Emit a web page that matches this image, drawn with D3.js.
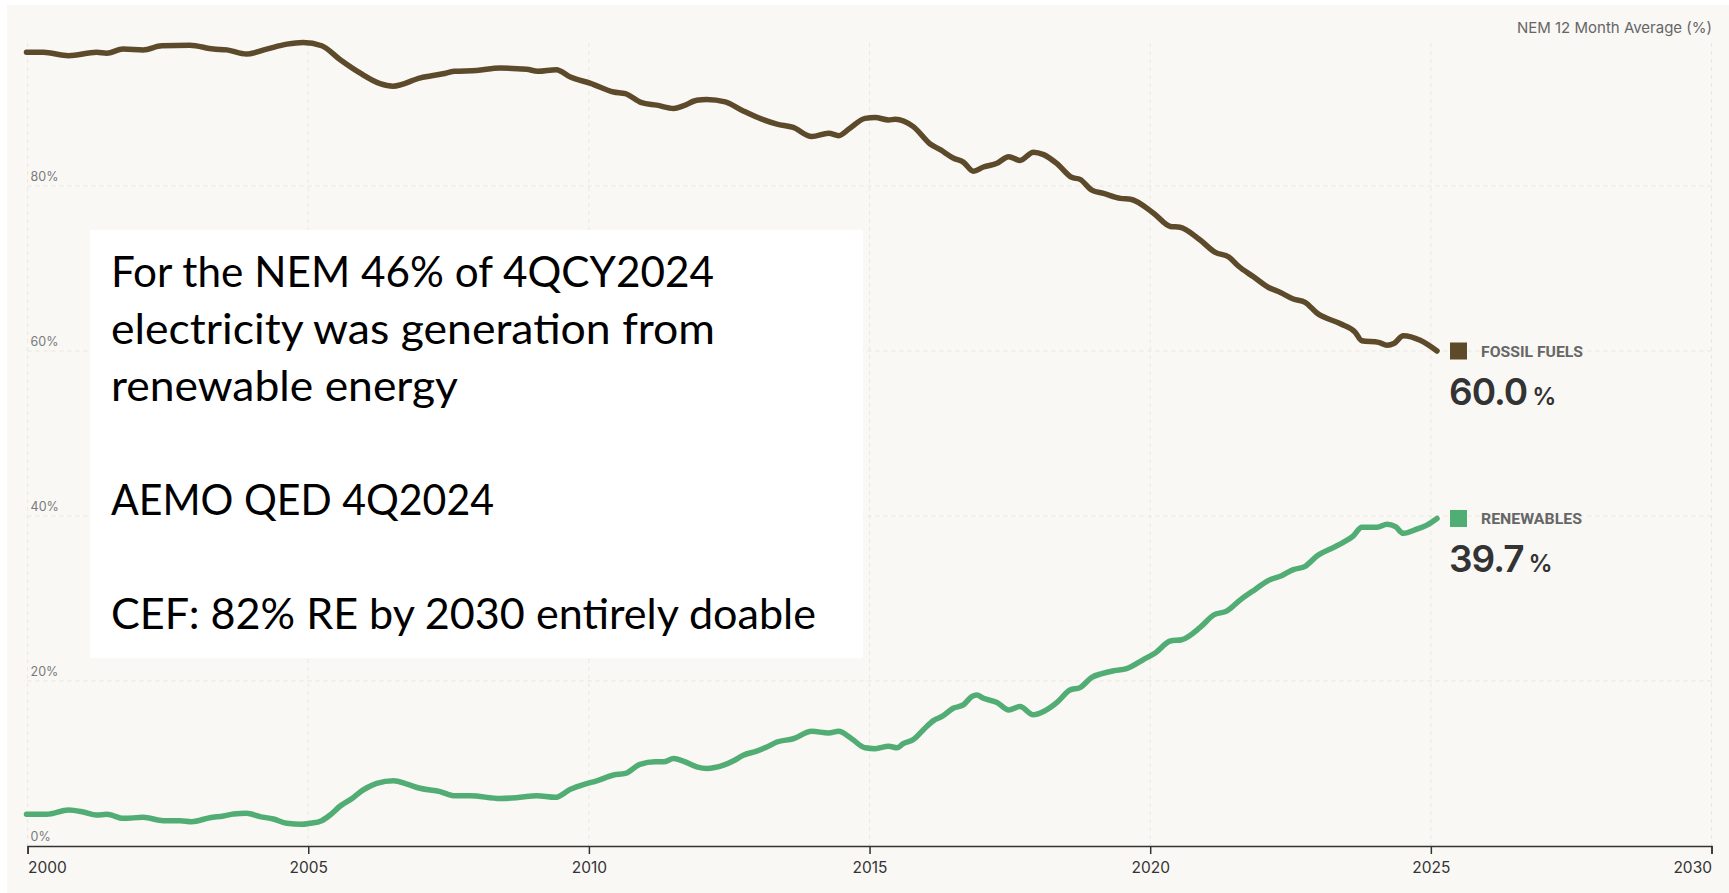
<!DOCTYPE html>
<html>
<head>
<meta charset="utf-8">
<script src="https://cdn.jsdelivr.net/npm/d3@7"></script>
<style>
  html, body { margin: 0; padding: 0; background: #ffffff; }
  svg { display: block; }
</style>
</head>
<body>
<svg id="chart" width="1729" height="893"></svg>
<script>
// NEM generation share, 12-month rolling average (%)
const fossilYears = [1999.98, 2000.28, 2000.73, 2001.23, 2001.41, 2001.70, 2002.06, 2002.39, 2002.89, 2003.31,
  2003.55, 2003.90, 2004.26, 2004.62, 2004.91, 2005.24, 2005.57, 2005.92, 2006.28, 2006.51,
  2007.00, 2007.40, 2007.60, 2008.00, 2008.42, 2008.89, 2009.09, 2009.42, 2009.67, 2010.03,
  2010.44, 2010.65, 2010.94, 2011.21, 2011.51, 2011.68, 2011.92, 2012.10, 2012.43, 2012.75,
  2013.08, 2013.35, 2013.64, 2013.97, 2014.27, 2014.45, 2014.65, 2014.92, 2015.10, 2015.34,
  2015.46, 2015.78, 2016.08, 2016.26, 2016.49, 2016.67, 2016.85, 2017.03, 2017.27, 2017.48,
  2017.68, 2017.92, 2018.10, 2018.34, 2018.60, 2018.75, 2018.96, 2019.17, 2019.47, 2019.65,
  2020.06, 2020.36, 2020.53, 2020.89, 2021.16, 2021.40, 2021.57, 2021.84, 2022.11, 2022.32,
  2022.55, 2022.76, 2022.97, 2023.39, 2023.65, 2023.77, 2024.07, 2024.22, 2024.34, 2024.51,
  2024.81, 2025.11];
const fossilValues = [96.2, 96.2, 95.8, 96.2, 96.1, 96.6, 96.5, 97.0, 97.05, 96.6,
  96.5, 96.0, 96.6, 97.2, 97.4, 97.0, 95.3, 93.7, 92.4, 92.1,
  93.1, 93.6, 93.9, 94.0, 94.3, 94.15, 93.9, 94.1, 93.2, 92.45,
  91.4, 91.2, 90.1, 89.8, 89.4, 89.7, 90.4, 90.5, 90.2, 89.1,
  88.1, 87.5, 87.1, 86.0, 86.4, 86.1, 87.0, 88.2, 88.3, 88.0,
  88.1, 87.2, 85.1, 84.4, 83.4, 82.9, 81.8, 82.3, 82.75, 83.55,
  83.1, 84.1, 83.8, 82.7, 81.05, 80.8, 79.5, 79.1, 78.5, 78.4,
  76.7, 75.1, 75.0, 73.45, 71.95, 71.4, 70.3, 69.0, 67.7, 67.1,
  66.3, 65.9, 64.6, 63.3, 62.3, 61.25, 61.05, 60.7, 60.9, 61.85,
  61.3, 60.0];

const renewYears = [1999.98, 2000.34, 2000.73, 2000.99, 2001.23, 2001.41, 2001.71, 2002.06, 2002.42, 2002.72,
  2002.92, 2003.25, 2003.49, 2003.67, 2003.90, 2004.14, 2004.38, 2004.62, 2004.88, 2005.03,
  2005.24, 2005.39, 2005.57, 2005.80, 2005.98, 2006.22, 2006.52, 2006.76, 2006.99, 2007.35,
  2007.59, 2007.88, 2008.42, 2008.77, 2009.07, 2009.40, 2009.67, 2009.93, 2010.14, 2010.44,
  2010.65, 2010.91, 2011.18, 2011.33, 2011.51, 2011.68, 2011.92, 2012.10, 2012.40, 2012.57,
  2012.75, 2012.99, 2013.17, 2013.35, 2013.64, 2013.97, 2014.27, 2014.45, 2014.68, 2014.92,
  2015.10, 2015.34, 2015.49, 2015.60, 2015.78, 2015.96, 2016.14, 2016.29, 2016.49, 2016.67,
  2016.82, 2016.91, 2017.03, 2017.27, 2017.48, 2017.68, 2017.92, 2018.10, 2018.34, 2018.57,
  2018.75, 2018.96, 2019.14, 2019.35, 2019.58, 2019.88, 2020.09, 2020.36, 2020.56, 2020.89,
  2021.13, 2021.37, 2021.60, 2021.87, 2022.11, 2022.35, 2022.55, 2022.76, 2022.97, 2023.27,
  2023.44, 2023.62, 2023.77, 2024.04, 2024.22, 2024.37, 2024.51, 2024.75, 2024.93, 2025.11];
const renewValues = [3.84, 3.84, 4.36, 4.12, 3.76, 3.84, 3.35, 3.47, 3.07, 3.07,
  2.95, 3.43, 3.64, 3.88, 3.96, 3.56, 3.27, 2.75, 2.63, 2.75,
  3.07, 3.76, 4.85, 5.86, 6.8, 7.6, 7.9, 7.5, 7.0, 6.6,
  6.1, 6.1, 5.75, 5.9, 6.1, 5.9, 6.87, 7.5, 7.9, 8.6,
  8.8, 9.9, 10.2, 10.2, 10.6, 10.3, 9.6, 9.4, 9.8, 10.3,
  11.0, 11.5, 12.0, 12.6, 13.0, 13.9, 13.7, 13.9, 13.0, 11.9,
  11.8, 12.1, 11.9, 12.4, 12.9, 14.1, 15.2, 15.7, 16.7, 17.1,
  18.1, 18.3, 17.9, 17.4, 16.5, 16.9, 15.9, 16.3, 17.4, 18.9,
  19.2, 20.45, 20.9, 21.25, 21.5, 22.6, 23.4, 24.85, 25.0, 26.5,
  28.0, 28.5, 29.8, 31.1, 32.2, 32.8, 33.5, 33.9, 35.15, 36.2,
  36.8, 37.6, 38.65, 38.65, 39.0, 38.7, 37.9, 38.4, 38.9, 39.7];

const seriesNames = ["FOSSIL FUELS", "RENEWABLES"];
const latestValues = [60.0, 39.7];
const xTicks = [2000, 2005, 2010, 2015, 2020, 2025, 2030];
const yTicks = [0, 20, 40, 60, 80];
const noteLines = [
  "For the NEM 46% of 4QCY2024",
  "electricity was generation from",
  "renewable energy",
  "",
  "AEMO QED 4Q2024",
  "",
  "CEF: 82% RE by 2030 entirely doable"
];
const noteWidths = [603, 604, 347, 0, 383, 0, 705];

const colors = { fossil: "#5c4a2b", renew: "#52ad74" };

const svg = d3.select("#chart");
const W = 1729, H = 893;

// panel background
svg.append("rect").attr("x", 7).attr("y", 5).attr("width", W - 7).attr("height", H - 5)
  .attr("fill", "#f9f8f5");

const x = d3.scaleLinear().domain([2000, 2030]).range([27.6, 1711.5]);
const y = d3.scaleLinear().domain([0, 100]).range([846, 21]);

const grid = svg.append("g");
// vertical dashed grid
grid.selectAll("line.v").data(xTicks).join("line")
  .attr("class", "v")
  .attr("x1", d => x(d)).attr("x2", d => x(d))
  .attr("y1", 43).attr("y2", y(0))
  .attr("stroke", "#e9e7e2").attr("stroke-width", 1).attr("stroke-dasharray", "4,4");
// horizontal dashed grid
grid.selectAll("line.h").data(yTicks.filter(d => d > 0)).join("line")
  .attr("class", "h")
  .attr("x1", x(2000)).attr("x2", x(2030))
  .attr("y1", d => y(d)).attr("y2", d => y(d))
  .attr("stroke", "#e9e7e2").attr("stroke-width", 1).attr("stroke-dasharray", "4,4");

// y labels sit just above their gridline
svg.append("g").selectAll("text").data(yTicks).join("text")
  .attr("x", x(2000) + 3).attr("y", d => y(d) - 5)
  .attr("font-family", "Inter, 'DejaVu Sans', sans-serif")
  .attr("font-size", 12.5).attr("fill", "#7a7a7a")
  .text(d => d + "%");

// x axis
const xAxis = d3.axisBottom(x).tickValues(xTicks).tickFormat(d3.format("d"))
  .tickSize(8).tickPadding(8);
const gx = svg.append("g").attr("transform", `translate(0,${y(0)})`).call(xAxis);
gx.select(".domain").attr("stroke", "#333").attr("stroke-width", 1.5);
gx.selectAll(".tick line").attr("stroke", "#333").attr("stroke-width", 1.5);
gx.selectAll(".tick text")
  .attr("font-family", "Inter, 'DejaVu Sans', sans-serif")
  .attr("font-size", 15.5).attr("fill", "#333")
  .attr("text-anchor", (d, i) => i === 0 ? "start" : (i === xTicks.length - 1 ? "end" : "middle"));

// chart caption
svg.append("text").attr("x", 1712).attr("y", 33).attr("text-anchor", "end")
  .attr("font-family", "Inter, 'DejaVu Sans', sans-serif")
  .attr("font-size", 15).attr("fill", "#666")
  .text("NEM 12 Month Average (%)");

// lines
const fossilData = fossilYears.map((t, i) => [t, fossilValues[i]]);
const renewData = renewYears.map((t, i) => [t, renewValues[i]]);
const line = d3.line().x(d => x(d[0])).y(d => y(d[1])).curve(d3.curveMonotoneX);

svg.append("path").datum(fossilData).attr("d", line)
  .attr("fill", "none").attr("stroke", colors.fossil).attr("stroke-width", 5.5)
  .attr("stroke-linejoin", "round").attr("stroke-linecap", "round");
svg.append("path").datum(renewData).attr("d", line)
  .attr("fill", "none").attr("stroke", colors.renew).attr("stroke-width", 5.5)
  .attr("stroke-linejoin", "round").attr("stroke-linecap", "round");

// end-of-line legend with latest value
const legend = [
  { name: seriesNames[0], value: latestValues[0], color: colors.fossil },
  { name: seriesNames[1], value: latestValues[1], color: "#4fae73" }
];
const lg = svg.append("g").selectAll("g").data(legend).join("g")
  .attr("transform", d => `translate(1450,${y(d.value)})`);
lg.append("rect").attr("x", 0).attr("y", -8.5).attr("width", 17).attr("height", 17)
  .attr("fill", d => d.color);
lg.append("text").attr("x", 31).attr("y", 6)
  .attr("font-family", "'Roboto', 'Liberation Sans', sans-serif")
  .attr("font-weight", 700).attr("font-size", 15.5).attr("fill", "#666")
  .attr("textLength", (d, i) => i === 0 ? 102 : 101).attr("lengthAdjust", "spacingAndGlyphs")
  .text(d => d.name);
const val = lg.append("text").attr("x", -1).attr("y", 54)
  .attr("font-family", "Inter, 'DejaVu Sans', sans-serif")
  .attr("font-weight", 600).attr("fill", "#333");
val.append("tspan").attr("font-size", 37).attr("letter-spacing", -1).text(d => d.value.toFixed(1));
val.append("tspan").attr("font-size", 24).attr("dx", 5).text("%");

// annotation box
const note = svg.append("g");
note.append("rect").attr("x", 90).attr("y", 230).attr("width", 773).attr("height", 428)
  .attr("fill", "#ffffff");
note.selectAll("text").data(noteLines.map((t, i) => ({ t, i, w: noteWidths[i] })).filter(d => d.t))
  .join("text")
  .attr("x", 111).attr("y", d => 287 + d.i * 57)
  .attr("font-family", "Lato, 'Open Sans', sans-serif")
  .attr("font-size", 43).attr("fill", "#000")
  .attr("textLength", d => d.w).attr("lengthAdjust", "spacingAndGlyphs")
  .text(d => d.t);
</script>
</body>
</html>
